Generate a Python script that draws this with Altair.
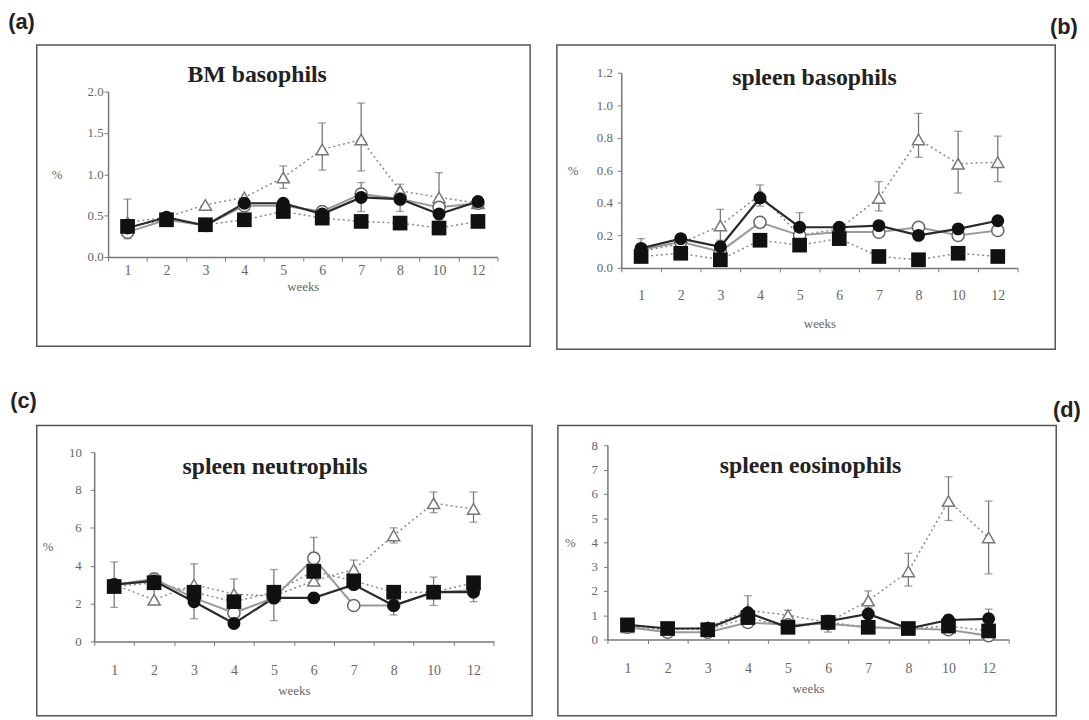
import altair as alt
import pandas as pd

WEEKS = ["1", "2", "3", "4", "5", "6", "7", "8", "10", "12"]
SERIES = ["FC", "OC", "TR", "SQ"]

# (a) BM basophils
A_FC = [0.35, 0.48, 0.38, 0.65, 0.65, 0.52, 0.72, 0.70, 0.52, 0.67]
A_OC = [0.30, 0.45, 0.38, 0.62, 0.62, 0.55, 0.76, 0.70, 0.60, 0.65]
A_TR = [0.42, 0.48, 0.63, 0.72, 0.96, 1.30, 1.42, 0.80, 0.72, 0.65]
A_SQ = [0.37, 0.45, 0.39, 0.45, 0.55, 0.47, 0.43, 0.41, 0.35, 0.43]
A_ERR = [("1", 0.22, 0.70), ("5", 0.83, 1.10), ("6", 1.05, 1.62), ("7", 1.04, 1.86),
         ("8", 0.55, 0.88), ("10", 0.45, 1.02), ("7", 0.55, 0.90)]

# (b) spleen basophils
B_FC = [0.12, 0.18, 0.13, 0.43, 0.25, 0.25, 0.26, 0.20, 0.24, 0.29]
B_OC = [0.11, 0.16, 0.10, 0.28, 0.20, 0.22, 0.22, 0.25, 0.20, 0.23]
B_TR = [0.10, 0.15, 0.26, 0.45, 0.20, 0.24, 0.43, 0.79, 0.64, 0.65]
B_SQ = [0.07, 0.09, 0.05, 0.17, 0.14, 0.18, 0.07, 0.05, 0.09, 0.07]
B_ERR = [("1", 0.05, 0.18), ("3", 0.17, 0.36), ("4", 0.38, 0.51), ("5", 0.12, 0.34),
         ("7", 0.35, 0.53), ("8", 0.68, 0.95), ("10", 0.46, 0.84), ("12", 0.53, 0.81)]

# (c) spleen neutrophils
C_FC = [3.0, 3.2, 2.1, 0.95, 2.3, 2.3, 3.0, 1.9, 2.6, 2.6]
C_OC = [3.0, 3.3, 2.3, 1.5, 2.3, 4.4, 1.9, 1.9, 2.6, 2.7]
C_TR = [3.0, 2.2, 3.0, 2.5, 2.4, 3.2, 3.8, 5.6, 7.3, 7.0]
C_SQ = [2.9, 3.1, 2.6, 2.1, 2.6, 3.7, 3.2, 2.6, 2.6, 3.1]
C_ERR = [("1", 1.8, 4.2), ("2", 2.0, 3.6), ("3", 1.2, 4.1), ("4", 1.6, 3.3), ("5", 1.1, 3.8),
         ("6", 3.2, 5.5), ("7", 3.0, 4.3), ("8", 5.2, 6.0), ("8", 1.4, 2.7),
         ("10", 6.8, 7.9), ("10", 1.9, 3.4), ("12", 6.3, 7.9), ("12", 2.1, 3.4)]

# (d) spleen eosinophils
D_FC = [0.60, 0.45, 0.45, 1.10, 0.50, 0.75, 1.05, 0.45, 0.80, 0.85]
D_OC = [0.50, 0.30, 0.30, 0.70, 0.60, 0.65, 0.50, 0.45, 0.40, 0.15]
D_TR = [0.50, 0.40, 0.50, 1.20, 1.00, 0.70, 1.60, 2.80, 5.70, 4.20]
D_SQ = [0.60, 0.45, 0.40, 0.90, 0.50, 0.70, 0.50, 0.45, 0.55, 0.35]
D_ERR = [("4", 0.6, 1.8), ("5", 0.7, 1.2), ("6", 0.3, 1.0), ("7", 1.3, 2.0), ("8", 2.2, 3.55),
         ("10", 4.9, 6.7), ("10", 0.5, 1.0), ("12", 2.7, 5.7), ("12", 0.5, 1.25)]

SERIF = "Liberation Serif"
SANS = "Liberation Sans"
AXC = "#777777"


def panel(name, fc, oc, tr, sq, errs, yvals, fmt, w, h, x0, x1, y0, y1,
          xlabpad, xtitlepad, ylabpad, ytitlex, tdx, tcy):
    rows = []
    for s, vals in zip(SERIES, [fc, oc, tr, sq]):
        for wk, v in zip(WEEKS, vals):
            rows.append({"week": wk, "series": s, "value": v})
    df = pd.DataFrame(rows)
    edf = pd.DataFrame([{"week": e[0], "lo": e[1], "hi": e[2]} for e in errs])

    xscale = alt.Scale(type="band", domain=WEEKS, range=[x0, x1],
                       paddingInner=0, paddingOuter=0)
    xenc = alt.X("week:N", sort=WEEKS, scale=xscale,
                 axis=alt.Axis(title="weeks", tickBand="extent", labelAngle=0,
                               offset=y0 - h, tickSize=4, labelPadding=xlabpad,
                               titlePadding=xtitlepad, labelFont=SERIF, labelFontSize=14,
                               labelColor="#666666", titleFont=SERIF, titleFontSize=13,
                               titleFontWeight="normal", titleColor="#666666",
                               domainColor=AXC, tickColor=AXC, domainWidth=1.5, grid=False))
    yscale = alt.Scale(domain=[yvals[0], yvals[-1]], range=[y0, y1], nice=False, zero=True)
    yaxis = alt.Axis(title="%", values=yvals, format=fmt, offset=-x0, tickSize=4,
                     labelPadding=ylabpad, labelFont=SERIF, labelFontSize=13,
                     labelColor="#666666", titleFont=SERIF, titleFontSize=13,
                     titleFontWeight="normal", titleColor="#666666", titleAngle=0,
                     titleX=ytitlex, titleY=(y0 + y1) / 2, titleAlign="center",
                     titleBaseline="middle", domainColor=AXC, tickColor=AXC,
                     domainWidth=1.5, grid=False)
    yenc = alt.Y("value:Q", scale=yscale, axis=yaxis)

    base = alt.Chart(df)

    def sel(s):
        return base.transform_filter(alt.datum.series == s)

    dotted = dict(color="#888888", strokeWidth=1.5, strokeDash=[2, 3])
    l_tr = sel("TR").mark_line(**dotted).encode(x=xenc, y=yenc)
    l_sq = sel("SQ").mark_line(**dotted).encode(x=xenc, y=yenc)
    l_oc = sel("OC").mark_line(color="#999999", strokeWidth=2).encode(x=xenc, y=yenc)
    l_fc = sel("FC").mark_line(color="#2a2a2a", strokeWidth=2.2).encode(x=xenc, y=yenc)

    err = alt.Chart(edf).mark_errorbar(
        ticks={"size": 8}, color="#777777", thickness=1.3
    ).encode(x=xenc, y=alt.Y("lo:Q", scale=yscale, axis=yaxis), y2="hi:Q")

    p_tr = sel("TR").mark_point(shape="triangle-up", fill="white", stroke="#777777",
                                strokeWidth=1.5, size=150, opacity=1).encode(x=xenc, y=yenc)
    p_oc = sel("OC").mark_point(shape="circle", fill="white", stroke="#666666",
                                strokeWidth=1.5, size=150, opacity=1).encode(x=xenc, y=yenc)
    p_sq = sel("SQ").mark_point(shape="square", filled=True, color="#111111",
                                size=220, opacity=1).encode(x=xenc, y=yenc)
    p_fc = sel("FC").mark_point(shape="circle", filled=True, color="#111111",
                                size=170, opacity=1).encode(x=xenc, y=yenc)

    main = alt.layer(l_tr, l_sq, l_oc, l_fc, err, p_tr, p_oc, p_sq, p_fc)

    # panel name carried by a top axis moved inside the frame
    name_layer = sel("FC").mark_point(opacity=0).encode(
        x=alt.X("week:N", sort=WEEKS, scale=xscale,
                axis=alt.Axis(orient="top", title=name, labels=False, ticks=False,
                              domain=False, grid=False, offset=-tcy, titlePadding=0,
                              titleX=w / 2 + tdx, titleY=0, titleAlign="center",
                              titleBaseline="middle", titleFont=SERIF, titleFontSize=24,
                              titleFontWeight="bold", titleColor="#222222")),
        y=yenc,
    )

    return alt.layer(main, name_layer).resolve_axis(x="independent").properties(
        width=w, height=h)


def cell(chart, letter, anchor, dx, off):
    return alt.vconcat(chart).properties(
        title=alt.Title(letter, font=SANS, fontSize=22, fontWeight="bold", color="#222222",
                        anchor=anchor, dx=dx, baseline="bottom", offset=off)
    )


pa = panel("BM basophils", A_FC, A_OC, A_TR, A_SQ, A_ERR,
           [0.0, 0.5, 1.0, 1.5, 2.0], ".1f", 498, 304, 72, 465, 214, 47,
           3, 3, 1, -52, -27, 30)
pb = panel("spleen basophils", B_FC, B_OC, B_TR, B_SQ, B_ERR,
           [0.0, 0.2, 0.4, 0.6, 0.8, 1.0, 1.2], ".1f", 503, 307, 65, 465, 225, 28,
           17, 15, 5, -49, 8, 33)
pc = panel("spleen neutrophils", C_FC, C_OC, C_TR, C_SQ, C_ERR,
           [0, 2, 4, 6, 8, 10], "d", 500, 293, 58, 461, 218, 27,
           18, 8, 9, -47, -10, 42)
pd_ = panel("spleen eosinophils", D_FC, D_OC, D_TR, D_SQ, D_ERR,
            [0, 1, 2, 3, 4, 5, 6, 7, 8], "d", 503, 293, 50, 455, 216, 20,
            18, 8, 6, -38, 3, 41)

row1 = alt.hconcat(cell(pa, "(a)", "start", -28, -12), cell(pb, "(b)", "end", 22, -17),
                   spacing=25)
row2 = alt.hconcat(cell(pc, "(c)", "start", -26, -10), cell(pd_, "(d)", "end", 24, -19),
                   spacing=24)

chart = alt.vconcat(row1, row2, spacing=40).properties(
    padding={"left": 0, "top": 0, "right": 0, "bottom": 0},
    background="white",
).configure_view(stroke="#555555", strokeWidth=1.5)

chart.save("out.html", embed_options={"renderer": "svg", "actions": False})
